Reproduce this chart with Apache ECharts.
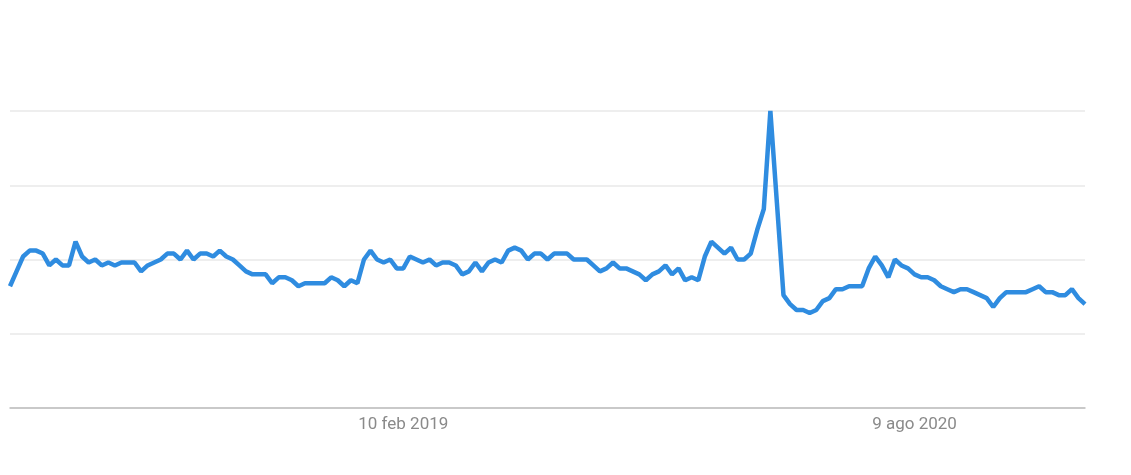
<!DOCTYPE html>
<html>
<head>
<meta charset="utf-8">
<script src="https://cdn.jsdelivr.net/npm/echarts@6/dist/echarts.min.js"></script>
<style>
  html, body { margin: 0; padding: 0; background: #fff; }
  #main { width: 1131px; height: 475px; }
</style>
</head>
<body>
<div id="main"></div>
<script>
// weekly interest, first week starts 17 dic 2017
const startWeek = Date.UTC(2017, 11, 17);
const interest = [
  41, 46, 51, 53, 53, 52, 48, 50, 48, 48,
  56, 51, 49, 50, 48, 49, 48, 49, 49, 49,
  46, 48, 49, 50, 52, 52, 50, 53, 50, 52,
  52, 51, 53, 51, 50, 48, 46, 45, 45, 45,
  42, 44, 44, 43, 41, 42, 42, 42, 42, 44,
  43, 41, 43, 42, 50, 53, 50, 49, 50, 47,
  47, 51, 50, 49, 50, 48, 49, 49, 48, 45,
  46, 49, 46, 49, 50, 49, 53, 54, 53, 50,
  52, 52, 50, 52, 52, 52, 50, 50, 50, 48,
  46, 47, 49, 47, 47, 46, 45, 43, 45, 46,
  48, 45, 47, 43, 44, 43, 51, 56, 54, 52,
  54, 50, 50, 52, 60, 67, 100, 69, 38, 35,
  33, 33, 32, 33, 36, 37, 40, 40, 41, 41,
  41, 47, 51, 48, 44, 50, 48, 47, 45, 44,
  44, 43, 41, 40, 39, 40, 40, 39, 38, 37,
  34, 37, 39, 39, 39, 39, 40, 41, 39, 39,
  38, 38, 40, 37, 35
];
const tickLabels = ['10 feb 2019', '9 ago 2020'];
const months = ['gen', 'feb', 'mar', 'apr', 'mag', 'giu', 'lug', 'ago', 'set', 'ott', 'nov', 'dic'];

const weeks = interest.map((v, i) => {
  const d = new Date(startWeek + i * 7 * 86400000);
  return d.getUTCDate() + ' ' + months[d.getUTCMonth()] + ' ' + d.getUTCFullYear();
});

const myChart = echarts.init(document.getElementById('main'));
myChart.setOption({
  animation: false,
  grid: { left: 10, right: 46, top: 111, bottom: 67 },
  xAxis: {
    type: 'category',
    data: weeks,
    boundaryGap: false,
    axisLine: { lineStyle: { color: '#bdbdbd', width: 1.5 } },
    axisTick: { show: false },
    axisLabel: {
      interval: (idx, val) => tickLabels.includes(val),
      color: '#8a8a8a',
      fontFamily: 'Roboto',
      fontSize: 17,
      margin: 8
    },
    splitLine: { show: false }
  },
  yAxis: {
    type: 'value',
    min: 0,
    max: 100,
    interval: 25,
    axisLine: { show: false },
    axisTick: { show: false },
    axisLabel: { show: false },
    splitLine: { lineStyle: { color: '#e8e8e8', width: 1.5 } }
  },
  series: [{
    type: 'line',
    data: interest,
    symbol: 'none',
    lineStyle: { color: '#2f8ce0', width: 4.5 },
    itemStyle: { color: '#2f8ce0' }
  }]
});
</script>
</body>
</html>
